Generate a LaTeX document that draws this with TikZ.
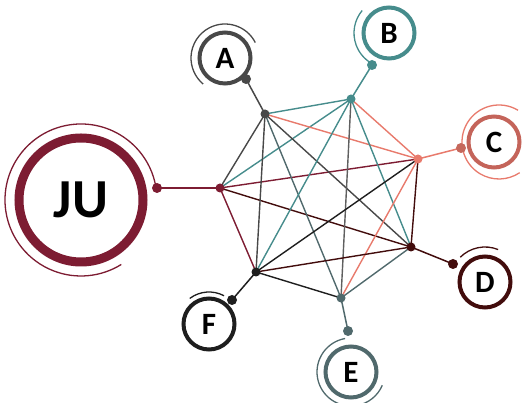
\documentclass[tikz,border=0pt]{standalone}
\usepackage{fontspec}
\setmainfont{Carlito}
\usetikzlibrary{backgrounds}
\definecolor{cju}{RGB}{125,28,50}
\definecolor{ca}{RGB}{72,72,72}
\definecolor{cb}{RGB}{70,140,140}
\definecolor{cc}{RGB}{232,122,108}
\definecolor{ccring}{RGB}{196,100,90}
\definecolor{cd}{RGB}{66,12,12}
\definecolor{ce}{RGB}{80,105,108}
\definecolor{cf}{RGB}{30,30,30}
\definecolor{cgray}{RGB}{95,95,95}
\begin{document}
\begin{tikzpicture}[x=1pt,y=1pt,
  dot/.style={circle,inner sep=0pt,minimum size=9pt},
  odot/.style={circle,inner sep=0pt,minimum size=10pt},
  ring/.style={circle,draw,inner sep=0pt,minimum size=51pt,line width=4pt,font=\bfseries\fontsize{31}{31}\selectfont},
  edge/.style={line width=1.4pt},
  link/.style={line width=1.5pt},
  thinarc/.style={line width=1.3pt}]
\useasboundingbox (0,0) rectangle (524,403);
% rings
\node[ring,draw=cju,line width=9pt,minimum size=124pt,font=\bfseries\fontsize{55}{55}\selectfont] (JU) at (81,203) {JU};
\node[ring,draw=ca] (A) at (225,345) {A};
\node[ring,draw=cb] (B) at (389,370) {B};
\node[ring,draw=ccring] (C) at (494,261) {C};
\node[ring,draw=cd] (D) at (485,121) {D};
\node[ring,draw=ce] (E) at (351,31) {E};
\node[ring,draw=cf] (F) at (209,79) {F};
% outer arcs
\draw[thinarc,cju] ([shift={(9:76)}]JU.center) arc[start angle=9,end angle=302,radius=76];
\draw[thinarc,ca] ([shift={(27:34)}]A.center) arc[start angle=27,end angle=230,radius=34];
\draw[thinarc,cb] ([shift={(140:35)}]B.center) arc[start angle=140,end angle=240,radius=35];
\draw[thinarc,cc] ([shift={(59:37)}]C.center) ++(5,0) arc[start angle=59,end angle=304,radius=37];
\draw[thinarc,cd] ([shift={(68:35)}]D.center) arc[start angle=68,end angle=135,radius=35];
\draw[thinarc,ce] ([shift={(100:34)}]E.center) arc[start angle=100,end angle=337,radius=34];
\draw[thinarc,cf] ([shift={(62:32)}]F.center) arc[start angle=62,end angle=127,radius=32];
% hub dots
\node[dot,fill=cju] (hJU) at (220,215) {};
\node[dot,fill=ca] (hA) at (265,289) {};
\node[dot,fill=cb] (hB) at (351,304) {};
\node[dot,fill=cc] (hC) at (418,244) {};
\node[dot,fill=cd] (hD) at (411,156) {};
\node[dot,fill=ce] (hE) at (341,105) {};
\node[dot,fill=cf] (hF) at (256,131) {};
% outer dots
\node[odot,fill=cju] (oJU) at (157,215) {};
\node[odot,fill=ca] (oA) at (246,324) {};
\node[odot,fill=cb] (oB) at (372,338) {};
\node[odot,fill=cc!85!black] (oC) at (461,255) {};
\node[odot,fill=cd] (oD) at (453,139) {};
\node[odot,fill=ce] (oE) at (348,72) {};
\node[odot,fill=cf] (oF) at (232,103) {};
\begin{pgfonlayer}{background}
% spokes
\draw[link,cju] (hJU.center) -- (oJU.center);
\draw[link,ca] (hA.center) -- (oA.center);
\draw[link,cb] (hB.center) -- (oB.center);
\draw[link,cc] (hC.center) -- (oC.center);
\draw[link,cd] (hD.center) -- (oD.center);
\draw[link,ce] (hE.center) -- (oE.center);
\draw[link,cf] (hF.center) -- (oF.center);
% mesh
\draw[edge,ca] (hJU.center) -- (hA.center);
\draw[edge,cb] (hJU.center) -- (hB.center);
\draw[edge,cju] (hJU.center) -- (hC.center);
\draw[edge,cd] (hJU.center) -- (hD.center);
\draw[edge,cju] (hJU.center) -- (hF.center);
\draw[edge,cb] (hA.center) -- (hB.center);
\draw[edge,cc] (hA.center) -- (hC.center);
\draw[edge,ca] (hA.center) -- (hD.center);
\draw[edge,ce] (hA.center) -- (hE.center);
\draw[edge,ca] (hA.center) -- (hF.center);
\draw[edge,cc] (hB.center) -- (hC.center);
\draw[edge,cb] (hB.center) -- (hD.center);
\draw[edge,cgray] (hB.center) -- (hE.center);
\draw[edge,cb] (hB.center) -- (hF.center);
\draw[edge,cd] (hC.center) -- (hD.center);
\draw[edge,cc] (hC.center) -- (hE.center);
\draw[edge,cf] (hC.center) -- (hF.center);
\draw[edge,ce] (hD.center) -- (hE.center);
\draw[edge,cd] (hD.center) -- (hF.center);
\draw[edge,cf] (hE.center) -- (hF.center);
\end{pgfonlayer}
\end{tikzpicture}
\end{document}
